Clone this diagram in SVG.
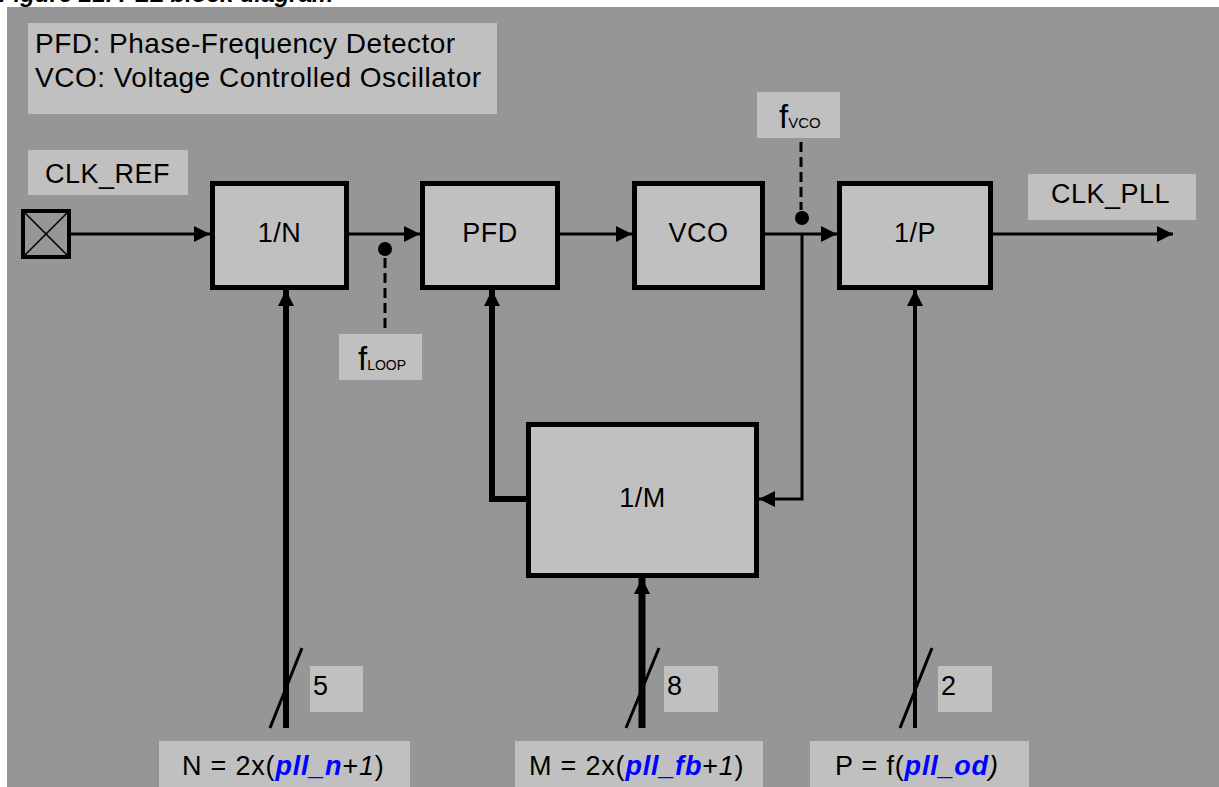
<svg xmlns="http://www.w3.org/2000/svg" width="1219" height="787" viewBox="0 0 1219 787">
<style>
  text { font-family: "Liberation Sans", Arial, sans-serif; fill: #000; }
  .t { font-size: 27px; letter-spacing: 0.5px; }
  .lg { font-size: 28px; letter-spacing: 0.5px; }
  .eq { font-size: 27px; letter-spacing: 0.8px; }
  .c { text-anchor: middle; }
  .box { fill: #c0c0c0; stroke: #000; stroke-width: 5; }
  .lbl { fill: #c0c0c0; stroke: none; }
  .w { fill: none; stroke: #000; stroke-width: 3; }
  .dash { fill: none; stroke: #000; stroke-width: 3; stroke-dasharray: 10 5; }
  .blue { fill: #0000ff; font-weight: bold; font-style: italic; }
  .it { font-style: italic; }
</style>
<defs>
  <marker id="arr" markerUnits="userSpaceOnUse" markerWidth="16" markerHeight="16" refX="16" refY="8" orient="auto">
    <path d="M0,0 L16,8 L0,16 z" fill="#000"/>
  </marker>
</defs>
<rect x="0" y="0" width="1219" height="787" fill="#ffffff"/>
<text x="-1" y="2" style="font-size:24px;font-weight:bold;font-style:italic">Figure 21. PLL block diagram</text>
<rect x="7" y="7" width="1212" height="780" fill="#969696"/>

<g id="legend">
  <rect class="lbl" x="28" y="23" width="469" height="91"/>
  <text class="lg" x="35" y="53">PFD: Phase-Frequency Detector</text>
  <text class="lg" x="35" y="87">VCO: Voltage Controlled Oscillator</text>
</g>

<g id="connectors">
  <path class="w" d="M71,234 H210" marker-end="url(#arr)"/>
  <path class="w" d="M349,234 H420" marker-end="url(#arr)"/>
  <path class="w" d="M560,234 H632" marker-end="url(#arr)"/>
  <path class="w" d="M765,234 H837" marker-end="url(#arr)"/>
  <path class="w" d="M993,234 H1173" marker-end="url(#arr)"/>
  <path class="w" d="M802,234 V499 H759" marker-end="url(#arr)"/>
  <path class="w" style="stroke-width:6" d="M526,499 H492 V290" marker-end="url(#arr)"/>
  <path class="w" style="stroke-width:6" d="M286,728 V290" marker-end="url(#arr)"/>
  <path class="w" style="stroke-width:7" d="M642,728 V578" marker-end="url(#arr)"/>
  <path class="w" style="stroke-width:4" d="M915,728 V290" marker-end="url(#arr)"/>
  <path class="w" d="M270,728 L302,648"/>
  <path class="w" d="M626,728 L659,648"/>
  <path class="w" d="M900,728 L932,648"/>
  <path class="dash" d="M385,258 V328"/>
  <path class="dash" d="M801,142 V210"/>
  <circle cx="385" cy="249" r="7" fill="#000"/>
  <circle cx="802" cy="218" r="7" fill="#000"/>
</g>

<g id="clk_ref">
  <rect class="lbl" x="28" y="150" width="160" height="45"/>
  <text class="t" x="45" y="183">CLK_REF</text>
  <rect x="23" y="211" width="46" height="46" fill="#969696" stroke="#000" stroke-width="4"/>
  <path d="M23,211 L69,257 M69,211 L23,257" stroke="#000" stroke-width="1.5"/>
</g>

<g id="div_n">
  <rect class="box" x="212.5" y="183.5" width="134" height="104"/>
  <text class="t c" x="279.5" y="242">1/N</text>
</g>
<g id="pfd">
  <rect class="box" x="422.5" y="183.5" width="135" height="104"/>
  <text class="t c" x="490" y="242">PFD</text>
</g>
<g id="vco">
  <rect class="box" x="634.5" y="183.5" width="128" height="104"/>
  <text class="t c" x="698.5" y="242">VCO</text>
</g>
<g id="div_p">
  <rect class="box" x="839.5" y="183.5" width="151" height="104"/>
  <text class="t c" x="915" y="242">1/P</text>
</g>
<g id="div_m">
  <rect class="box" x="528.5" y="424.5" width="228" height="151"/>
  <text class="t c" x="642.5" y="507">1/M</text>
</g>

<g id="clk_pll">
  <rect class="lbl" x="1028" y="174" width="168" height="46"/>
  <text class="t" x="1051" y="203">CLK_PLL</text>
</g>

<g id="f_loop">
  <rect class="lbl" x="339" y="334" width="83" height="46"/>
  <text x="358" y="370" style="font-size:33px">f<tspan style="font-size:14px">LOOP</tspan></text>
</g>
<g id="f_vco">
  <rect class="lbl" x="757" y="92" width="83" height="46"/>
  <text x="779" y="128" style="font-size:33px">f<tspan style="font-size:15px">VCO</tspan></text>
</g>

<g id="bits_n">
  <rect class="lbl" x="310" y="666" width="53" height="46"/>
  <text class="t" x="313" y="695">5</text>
</g>
<g id="bits_m">
  <rect class="lbl" x="664" y="666" width="54" height="46"/>
  <text class="t" x="667" y="695">8</text>
</g>
<g id="bits_p">
  <rect class="lbl" x="938" y="666" width="54" height="46"/>
  <text class="t" x="941" y="695">2</text>
</g>

<g id="eq_n">
  <rect class="lbl" x="159" y="741" width="251" height="46"/>
  <text class="eq" x="182" y="775">N = 2x(<tspan class="blue">pll_n</tspan>+<tspan class="it">1</tspan>)</text>
</g>
<g id="eq_m">
  <rect class="lbl" x="515" y="741" width="248" height="46"/>
  <text class="eq" x="529" y="775">M = 2x(<tspan class="blue">pll_fb</tspan>+<tspan class="it">1</tspan>)</text>
</g>
<g id="eq_p">
  <rect class="lbl" x="810" y="741" width="219" height="46"/>
  <text class="eq" x="835" y="775">P = f(<tspan class="blue">pll_od</tspan><tspan class="it">)</tspan></text>
</g>
</svg>
